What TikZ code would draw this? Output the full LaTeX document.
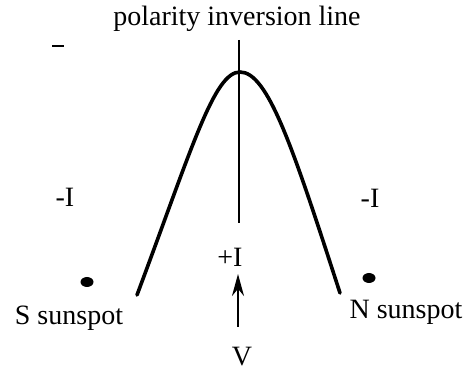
\documentclass[tikz,border=0pt]{standalone}
\usepackage{fontspec}
\setmainfont{Liberation Serif}
\usetikzlibrary{arrows.meta,positioning,shapes.geometric}
\tikzset{
    lbl/.style={font=\rmfamily\fontsize{14}{16}\selectfont, inner sep=1pt},
    spot/.style={ellipse, fill=black, inner sep=0pt, minimum width=6.5pt, minimum height=5pt},
    arr/.style={-{Stealth[length=11pt,width=6pt]}, line width=1.1pt},
    arch/.style={line width=1.8pt, line cap=round},
    pil/.style={line width=1pt},
}

\begin{document}
\begin{tikzpicture}[x=0.5pt, y=-0.5pt]
    \useasboundingbox (0,0) rectangle (472,373);

    % labels
    \node[lbl] (title) at (237,19)  {polarity inversion line};
    \node[lbl] (lneg)  at (65,197)  {-I};
    \node[lbl] (rneg)  at (370,198) {-I};
    \node[lbl] (pos)   at (230,257) {+I};
    \node[lbl] (ssun)  at (69,318)  {S sunspot};
    \node[lbl] (nsun)  at (406,312) {N sunspot};
    \node[lbl] (vel)   at (242,357) {V};

    % sunspots
    \node[spot] (sdot) at (87,282)  {};
    \node[spot] (ndot) at (369,278) {};

    % loop and inversion line
    \coordinate (lfoot) at (137,295);
    \coordinate (apex)  at (240,72);
    \coordinate (rfoot) at (340,293);
    \draw[arch] (lfoot) .. controls (192,148) and (214,72) .. (apex)
                        .. controls (268,72) and (293,148) .. (rfoot);

    \coordinate (ptop) at (239,40);
    \coordinate (pbot) at (239,223);
    \draw[pil] (ptop) -- (pbot);

    % flow
    \coordinate (vtail) at (238,327);
    \coordinate (vhead) at (238,274);
    \draw[arr] (vtail) -- (vhead);

    % stray mark
    \coordinate (m1) at (52,46);
    \coordinate (m2) at (64,46);
    \draw[line width=1pt] (m1) -- (m2);
\end{tikzpicture}
\end{document}
